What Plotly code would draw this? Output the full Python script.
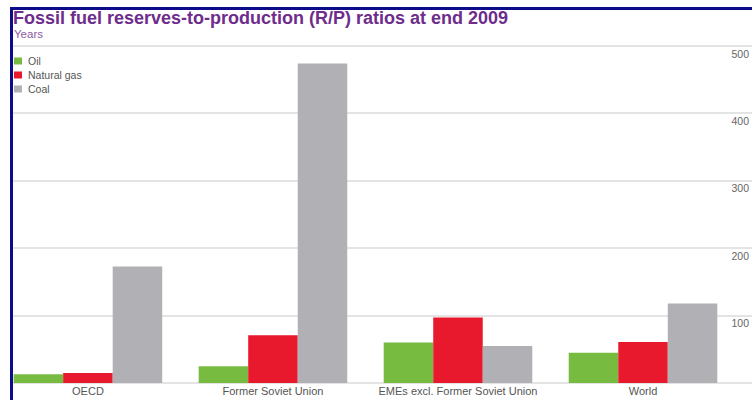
import plotly.graph_objects as go

# ---- data (R/P ratios, years, end 2009) ----
categories = ["OECD", "Former Soviet Union", "EMEs excl. Former Soviet Union", "World"]
oil = [13, 25, 60, 45]
gas = [15, 71, 97, 61]
coal = [173, 474, 55, 118]
series_names = ["Oil", "Natural gas", "Coal"]
y_ticks = [100, 200, 300, 400, 500]
y_tick_text = ["100", "200", "300", "400", "500"]

# ---- styling ----
colors = ["#77bc41", "#e8192c", "#b1b1b5"]
W, H = 752, 400
L, R, T, B = 13, 0, 42, 17
PW, PH = W - L - R, H - T - B
FONT = "Liberation Sans, Arial, sans-serif"


def px2x(px):
    return (px - L) / PW


def py2y(py):
    return (H - B - py) / PH


fig = go.Figure()
for name, vals, col in zip(series_names, [oil, gas, coal], colors):
    fig.add_trace(go.Bar(x=categories, y=vals, name=name, marker=dict(color=col, line=dict(width=0)),
                         showlegend=False))

fig.update_layout(
    width=W, height=H,
    margin=dict(l=L, r=R, t=T, b=B, autoexpand=False),
    paper_bgcolor="white", plot_bgcolor="white",
    barmode="group", bargap=0.197, bargroupgap=0,
    font=dict(family=FONT, size=10, color="#555555"),
    title=dict(text="<b>Fossil fuel reserves-to-production (R/P) ratios at end 2009</b>",
               font=dict(family=FONT, size=18, color="#6e2c8c"),
               x=13 / W, xref="container", xanchor="left",
               y=1 - 18 / H, yref="container", yanchor="middle"),
    xaxis=dict(type="category", range=[-0.405, 3.589], showgrid=False, zeroline=False,
               showline=False, ticks="", tickfont=dict(size=11, color="#555555"),
               fixedrange=True),
    yaxis=dict(range=[0, 505.93], side="right", tickvals=y_ticks, ticktext=y_tick_text,
               ticklabelposition="inside", ticklabelshift=8, ticklabelstandoff=0,
               showgrid=True, gridcolor="#e4e4e4", gridwidth=2,
               zeroline=True, zerolinecolor="#e4e4e4", zerolinewidth=2,
               showline=False, ticks="", tickfont=dict(size=10.5, color="#666666"),
               fixedrange=True),
    showlegend=False,
)

# subtitle
fig.add_annotation(text="Years", xref="paper", yref="paper", x=px2x(12), y=py2y(33.5),
                   xanchor="left", yanchor="middle", showarrow=False,
                   font=dict(family=FONT, size=11.5, color="#8b5aa5"))

# manual legend
for i, (name, col) in enumerate(zip(series_names, colors)):
    cy = 61 + 14 * i
    fig.add_shape(type="rect", xref="paper", yref="paper",
                  x0=px2x(14), x1=px2x(22), y0=py2y(cy + 3.5), y1=py2y(cy - 3.5),
                  fillcolor=col, line=dict(width=0))
    fig.add_annotation(text=name, xref="paper", yref="paper", x=px2x(26), y=py2y(cy),
                       xanchor="left", yanchor="middle", showarrow=False,
                       font=dict(family=FONT, size=10.5, color="#555555"))

# blue frame (left and top edges of the cropped picture)
fig.add_shape(type="line", xref="paper", yref="paper", x0=px2x(11.5), x1=px2x(11.5),
              y0=py2y(7), y1=py2y(410), line=dict(color="#0c0c8a", width=3))
fig.add_shape(type="line", xref="paper", yref="paper", x0=px2x(10), x1=px2x(760),
              y0=py2y(8.5), y1=py2y(8.5), line=dict(color="#0c0c8a", width=3))

fig.write_html("out.html")
